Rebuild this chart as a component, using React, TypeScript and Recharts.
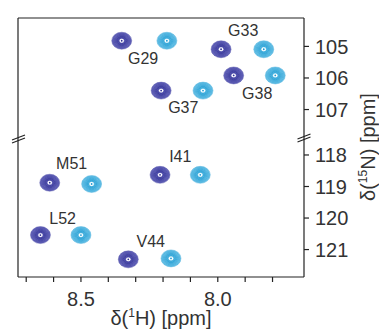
import React from 'react';
import { ScatterChart, Scatter, XAxis, YAxis, ReferenceLine } from 'recharts';

// peak assignments, 1H / 15N shifts (ppm)
const residues = ['G29', 'G33', 'G38', 'G37', 'M51', 'I41', 'L52', 'V44'];
const darkH = [8.351, 7.988, 7.942, 8.207, 8.614, 8.211, 8.648, 8.327];
const darkN = [104.82, 105.09, 105.92, 106.4, 118.88, 118.63, 120.54, 121.31];
const lightH = [8.186, 7.832, 7.79, 8.054, 8.461, 8.064, 8.5, 8.171];
const lightN = [104.82, 105.09, 105.92, 106.4, 118.92, 118.63, 120.54, 121.28];
const labelH = [8.273, 7.907, 7.856, 8.126, 8.534, 8.137, 8.567, 8.245];
const labelN = [105.37, 104.51, 106.49, 106.92, 118.26, 118.05, 120.01, 120.75];

const hTicks = [8.7, 8.6, 8.5, 8.4, 8.3, 8.2, 8.1, 8.0, 7.9, 7.8];
const hLabeled = [8.5, 8.0];
const nTicksTop = [105, 106, 107];
const nTicksBottom = [118, 119, 120, 121];

const hDomain: [number, number] = [7.685, 8.73];
const nDomainTop: [number, number] = [104.1, 107.87];
const nDomainBottom: [number, number] = [117.43, 121.87];

const FONT = '"Liberation Sans", Arial, sans-serif';
const AXIS = '#222';
const TEXT = '#333';
const DARK = { fill: '#5a5ab8', line: '#2f2f94' };
const CYAN = { fill: '#62bfe6', line: '#1f9bd2' };

const toPoints = (xs: number[], ys: number[]) =>
  xs.map((x, i) => ({ x, y: ys[i], name: residues[i] }));

const darkPeaks = toPoints(darkH, darkN);
const lightPeaks = toPoints(lightH, lightN);
const labels = toPoints(labelH, labelN);

const isTop = (p: { y: number }) => p.y < 110;

// contour-style peak: nested rings getting denser towards the centre
const makePeak = (c: { fill: string; line: string }) => (props: any) => {
  const { cx, cy } = props;
  if (cx == null || cy == null) return null;
  const rx = 10;
  const ry = 8.5;
  const rings = [1, 0.88, 0.77, 0.67, 0.58, 0.5, 0.42, 0.34];
  return (
    <g>
      <ellipse cx={cx} cy={cy} rx={rx} ry={ry} fill={c.fill} fillOpacity={0.85} />
      {rings.map((f, i) => (
        <ellipse key={i} cx={cx} cy={cy} rx={rx * f} ry={ry * f} fill="none" stroke={c.line} strokeOpacity={0.45 + i * 0.06} strokeWidth={0.8} />
      ))}
      <ellipse cx={cx} cy={cy} rx={2.2} ry={1.9} fill="#fff" />
      <circle cx={cx} cy={cy} r={0.9} fill={c.line} />
    </g>
  );
};

const LabelShape = (props: any) => {
  const { cx, cy, payload } = props;
  if (cx == null || cy == null) return null;
  return (
    <text x={cx} y={cy} textAnchor="middle" dominantBaseline="central" fontSize={16} fontFamily={FONT} fill={TEXT}>
      {payload.name}
    </text>
  );
};

const DarkPeak = makePeak(DARK);
const CyanPeak = makePeak(CYAN);

const Panel = ({ top, height, margin, domain, ticks, bottomAxis }: any) => {
  const part = (arr: any[]) => arr.filter((p) => (top ? isTop(p) : !isTop(p)));
  return (
    <ScatterChart width={379} height={height} margin={margin}>
      <XAxis
        type="number"
        dataKey="x"
        domain={hDomain}
        reversed
        allowDataOverflow
        hide={!bottomAxis}
        ticks={hTicks}
        interval={0}
        tickFormatter={(v: number) => (hLabeled.includes(v) ? v.toFixed(1) : '')}
        tick={{ fontSize: 20, fill: TEXT, fontFamily: FONT }}
        tickSize={5}
        tickMargin={10}
        height={45}
        stroke={AXIS}
        strokeWidth={1.2}
      />
      <YAxis
        type="number"
        dataKey="y"
        orientation="right"
        domain={domain}
        reversed
        allowDataOverflow
        ticks={ticks}
        interval={0}
        width={60}
        tick={{ fontSize: 20, fill: TEXT, fontFamily: FONT, textAnchor: 'start' }}
        tickSize={5}
        tickMargin={6}
        stroke={AXIS}
        strokeWidth={1.2}
      />
      <ReferenceLine x={hDomain[1]} stroke={AXIS} strokeWidth={1.2} />
      {top && <ReferenceLine y={domain[0]} stroke={AXIS} strokeWidth={1.2} />}
      <Scatter data={part(darkPeaks)} shape={DarkPeak} isAnimationActive={false} />
      <Scatter data={part(lightPeaks)} shape={CyanPeak} isAnimationActive={false} />
      <Scatter data={part(labels)} shape={LabelShape} isAnimationActive={false} />
    </ScatterChart>
  );
};

const BreakMark = ({ x, y }: { x: number; y: number }) => (
  <g stroke={AXIS} strokeWidth={1.2}>
    <line x1={x - 6.5} y1={y + 1} x2={x + 6.5} y2={y - 4} />
    <line x1={x - 6.5} y1={y + 4} x2={x + 6.5} y2={y - 1} />
  </g>
);

export default function App() {
  return (
    <div style={{ position: 'absolute', left: 0, top: 0, width: 379, height: 330, background: '#fff', fontFamily: FONT }}>
      <div style={{ position: 'absolute', left: 0, top: 0 }}>
        <Panel top height={137} margin={{ top: 18, right: 15, bottom: 0, left: 18 }} domain={nDomainTop} ticks={nTicksTop} bottomAxis={false} />
      </div>
      <div style={{ position: 'absolute', left: 0, top: 137 }}>
        <Panel top={false} height={193} margin={{ top: 0, right: 15, bottom: 8, left: 18 }} domain={nDomainBottom} ticks={nTicksBottom} bottomAxis />
      </div>
      <svg width={379} height={330} style={{ position: 'absolute', left: 0, top: 0, pointerEvents: 'none' }}>
        <BreakMark x={18.5} y={139} />
        <BreakMark x={304} y={138} />
        <text x={161} y={325} textAnchor="middle" fontSize={20} fontFamily={FONT} fill={TEXT}>
          δ(<tspan fontSize={12} dy={-8}>1</tspan><tspan dy={8}>H) [ppm]</tspan>
        </text>
        <text transform="translate(375,147) rotate(-90)" textAnchor="middle" fontSize={20} fontFamily={FONT} fill={TEXT}>
          δ(<tspan fontSize={12} dy={-8}>15</tspan><tspan dy={8}>N) [ppm]</tspan>
        </text>
      </svg>
    </div>
  );
}
